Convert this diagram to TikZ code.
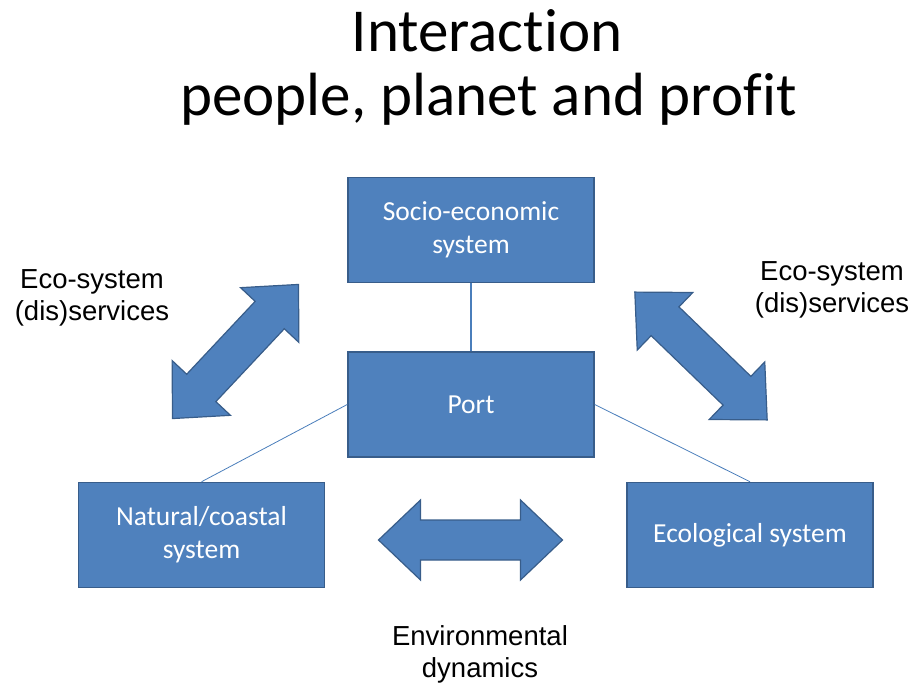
\documentclass[tikz,border=0pt]{standalone}
\usepackage{fontspec}
\setmainfont{Carlito}[Ligatures=NoCommon]
\newfontfamily\arialfont{Liberation Sans}
\definecolor{boxblue}{HTML}{4F81BD}
\definecolor{boxedge}{HTML}{385D8A}
\definecolor{linkblue}{HTML}{4A7EBB}
\begin{document}
\begin{tikzpicture}[x=1pt,y=-1pt,
  sysbox/.style={rectangle, fill=boxblue, draw=boxedge, line width=1.5pt,
    minimum width=246pt, minimum height=105pt, text=white,
    font=\fontsize{27.5}{33}\selectfont, align=center, inner sep=0pt},
  sidetext/.style={font=\arialfont\fontsize{27.5}{32}\selectfont, align=center,
    text=black, inner sep=0pt},
  titletext/.style={font=\fontsize{61}{63}\selectfont, anchor=base, inner sep=0pt},
  dblarrow/.style={fill=boxblue, draw=boxedge, line width=1.2pt, line join=miter},
  darrow/.pic={\draw[dblarrow] (-92,0) -- (-50,40) -- (-50,20) -- (50,20) -- (50,40)
     -- (92,0) -- (50,-40) -- (50,-20) -- (-50,-20) -- (-50,-40) -- cycle;},
  link/.style={draw=linkblue, line width=0.8pt}]
\useasboundingbox (0,0) rectangle (913,684);

\node[titletext] (t1) at (487,52) {Interaction};
\node[titletext] (t2) at (488.5,116) {people, planet and profit};

\node[sysbox] (socio) at (471,230) {Socio-economic\\system};
\node[sysbox] (port) at (471,404.5) {Port};
\node[sysbox] (nat) at (201.5,535) {Natural/coastal\\system};
\node[sysbox] (eco) at (750,535) {Ecological system};

\draw[link, line width=1.3pt] (socio.south) -- (port.north);
\draw[link] (port.west) -- (nat.north);
\draw[link] (port.east) -- (eco.north);

\pic[rotate=46.8] at (235.5,351.5) {darrow};
\pic[rotate=-44] at (701,356) {darrow};
\pic at (470.5,540) {darrow};

\node[sidetext] (ls) at (92,298) {Eco-system\\(dis)services};
\node[sidetext] (rs) at (832,290) {Eco-system\\(dis)services};
\node[sidetext] (env) at (480,654) {Environmental\\dynamics};
\end{tikzpicture}
\end{document}
